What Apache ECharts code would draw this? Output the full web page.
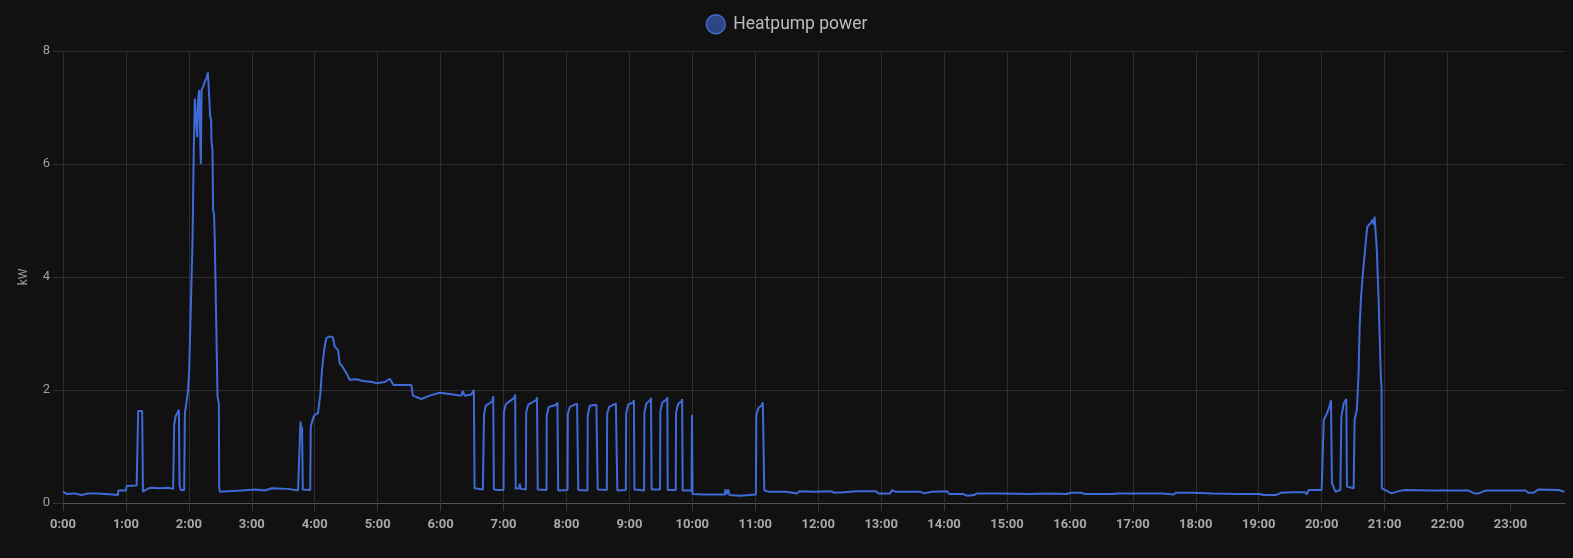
<!DOCTYPE html>
<html>
<head>
<meta charset="utf-8">
<script src="https://cdn.jsdelivr.net/npm/echarts@6/dist/echarts.min.js"></script>
<style>
html,body{margin:0;padding:0;background:#111111;}
#chart{width:1573px;height:558px;}
</style>
</head>
<body>
<div id="chart"></div>
<script>
const seriesName = "Heatpump power";
const yAxisName = "kW";
const hourTicks = [0,60,120,180,240,300,360,420,480,540,600,660,720,780,840,900,960,1020,1080,1140,1200,1260,1320,1380];
const yTicks = [0,2,4,6,8];

// minutes after midnight
const minutes = [
0,1.0,3.5,10.5,17.8,23.8,32.4,40.0,47.6,52.4,52.7,60.0,60.7,70.2,71.4,71.7,75.5,76.2,78.1,82.8,92.3,100,105,105.7,106,107.3,109.2,110.5,111.1,112.3,115.5,116.2,117.8,119.3,120.3,123.5,124.7,125.7,127.3,127.9,128.8,129.8,131.1,131.4,132.1,133.6,135.2,136.8,138.1,138.7,140,140.3,141.2,141.6,142.5,143.1,144.0,144.7,146.9,147.3,148.6,148.9,149.5,157.1,170.2,182.9,192.4,198.8,214.6,224.1,226.0,226.4,227.3,227.9,228.6,235.7,236.2,238.4,240,243.1,244.1,245.4,246.9,247.9,249.5,251.1,254.3,257.4,259,262.2,263.8,266.9,270.8,273.3,279.7,285.9,295.5,298.7,306.7,311.4,315.2,324.1,332.1,333.6,341.6,349.5,359,368.6,379.7,381.2,382.9,389.2,391.7,392.4,400.3,
401.0,401.4,402.9,409.3,410.2,410.8,415,420.0,
420.3,422.2,430.2,431.1,431.6,435,435.4,436.5,441.3,
441.6,443.5,451.2,451.9,452.6,461.0,
461.2,463.1,470.6,471.4,472.1,481.0,
481.3,483.2,490.1,490.8,491.3,500.0,
500.3,502.2,508.5,509.2,509.8,518.5,
518.8,520.7,527.1,528.0,528.5,536.6,
536.9,538.8,543.6,544.3,544.8,554.0,
554.3,556.2,559.9,560.6,561.2,569.2,
569.5,571.4,575.4,576.2,576.5,584.2,
584.5,586.4,589.6,590.3,590.8,599.3,599.7,600.2,
610,620,631.0,631.4,632.5,634.3,635.3,645,654.5,660.6,
661.0,663.0,665.8,667.2,668.6,
673.3,689.5,690,700,701.9,716,732.4,735.2,744.8,756.2,775.2,777.1,788.6,790.5,793.3,817.1,821,828.6,842.9,844.8,858.1,861.9,868.6,871.4,892.4,894.3,897.1,921,940,957.1,960,970.5,974.3,1001,1004.8,1025.7,1048.6,1050.5,1059,1061,1078,1096.2,1121,1140,1144.8,1156.2,1161,1173.3,1184.8,1185.7,1187.6,1200,
1201,1202,1205.1,1207.4,1208.9,1209.8,1213.1,1217.8,1218.6,1218.8,1221,1223.5,1224.1,1230.5,1231.2,1231.4,1233.6,1235.2,1236.2,1237.4,1239,1242.2,1243.5,1246.4,1248.6,1249.5,1250.5,1251.1,1252.6,1254.3,1256.5,1257.1,1257.4,1266.7,1273.3,1279.7,1304.8,1340,1345.7,1349.5,1356.2,1394.3,1397.1,1401.9,1406.7,1425.7,1431.4
];

const kw = [
0.20,0.20,0.16,0.17,0.14,0.17,0.17,0.16,0.15,0.14,0.22,0.22,0.30,0.31,0.31,1.63,1.63,0.20,0.23,0.27,0.26,0.27,0.25,0.25,1.38,1.53,1.55,1.65,0.32,0.23,0.23,1.59,1.79,2.0,2.35,4.65,6.3,7.16,7.15,6.47,7.13,7.31,7.31,6.0,7.31,7.37,7.46,7.52,7.62,7.43,7.40,6.85,6.78,6.40,6.25,5.18,5.12,4.65,2.35,1.88,1.76,0.29,0.20,0.21,0.22,0.24,0.22,0.26,0.25,0.22,0.22,1.44,1.26,1.35,0.24,0.23,1.35,1.50,1.56,1.59,1.60,1.94,2.35,2.53,2.77,2.92,2.95,2.93,2.77,2.71,2.47,2.40,2.28,2.18,2.19,2.16,2.14,2.12,2.14,2.20,2.09,2.09,2.09,1.90,1.84,1.90,1.95,1.93,1.90,1.98,1.90,1.92,2.00,0.26,0.24,
0.24,1.55,1.72,1.80,1.89,0.24,0.23,0.23,
1.60,1.75,1.86,1.92,0.25,0.26,0.34,0.25,0.24,
1.60,1.74,1.82,1.87,0.24,0.23,
1.55,1.70,1.74,1.78,0.22,0.23,
1.57,1.70,1.76,1.79,0.23,0.22,
1.55,1.72,1.74,1.75,0.24,0.23,
1.58,1.70,1.76,1.79,0.22,0.23,
1.58,1.74,1.78,1.82,0.24,0.22,
1.60,1.76,1.82,1.86,0.24,0.24,
1.62,1.78,1.83,1.87,0.23,0.23,
1.60,1.75,1.80,1.84,0.22,0.22,1.56,0.16,
0.15,0.15,0.15,0.24,0.15,0.24,0.14,0.13,0.14,0.15,
1.55,1.68,1.72,1.78,0.22,
0.20,0.20,0.17,0.17,0.21,0.20,0.21,0.18,0.19,0.21,0.21,0.17,0.17,0.23,0.20,0.20,0.17,0.20,0.21,0.16,0.16,0.13,0.14,0.17,0.17,0.20,0.17,0.16,0.17,0.16,0.18,0.18,0.16,0.16,0.17,0.17,0.17,0.15,0.15,0.18,0.18,0.17,0.16,0.16,0.14,0.14,0.18,0.19,0.19,0.15,0.23,0.23,
0.23,1.47,1.59,1.70,1.82,0.35,0.20,0.23,0.23,1.53,1.76,1.84,0.29,0.26,0.26,1.47,1.65,2.30,3.12,3.59,4.00,4.65,4.89,4.95,5.01,4.93,5.07,4.89,4.48,3.59,2.18,2.06,0.26,0.17,0.21,0.23,0.22,0.22,0.17,0.17,0.22,0.22,0.18,0.18,0.24,0.23,0.20
];

const data = minutes.map((m, i) => [m, kw[i]]);

const chart = echarts.init(document.getElementById('chart'), null, {renderer: 'canvas'});
const option = {
  backgroundColor: '#111111',
  animation: false,
  textStyle: {fontFamily: 'Roboto, "Noto Sans", sans-serif'},
  legend: {
    data: [seriesName],
    left: 'center',
    top: 9,
    icon: 'circle',
    itemWidth: 19,
    itemHeight: 19,
    itemGap: 8,
    itemStyle: {color: 'rgba(66,105,208,0.6)', borderColor: '#4269d0', borderWidth: 1.5},
    textStyle: {color: '#bdbdbd', fontSize: 17.5, fontFamily: 'Roboto', padding: [0, 0, 0, 3]}
  },
  grid: {left: 63, right: 8, top: 51, bottom: 55, containLabel: false},
  xAxis: {
    type: 'value',
    min: 0,
    max: 1432,
    interval: 60,
    axisLine: {show: true, lineStyle: {color: '#555555', width: 1}},
    axisTick: {show: true, length: 8, lineStyle: {color: '#3a3a3a'}, customValues: hourTicks},
    axisLabel: {
      customValues: hourTicks,
      color: '#a8a8a8', fontSize: 13, fontWeight: 'bold', margin: 15, fontFamily: 'Roboto',
      formatter: v => Math.round(v / 60) + ':00'
    },
    splitLine: {show: true, showMaxLine: false, lineStyle: {color: '#2e2e2e', width: 1}}
  },
  yAxis: {
    type: 'value',
    min: 0,
    max: 8,
    interval: 2,
    name: yAxisName,
    nameLocation: 'middle',
    nameGap: 33,
    nameRotate: 90,
    nameTextStyle: {color: '#a0a0a0', fontSize: 12, fontFamily: 'Roboto'},
    axisLine: {show: false},
    axisTick: {show: true, length: 10, lineStyle: {color: '#333333'}},
    axisLabel: {color: '#a0a0a0', fontSize: 13, margin: 13, fontFamily: 'Roboto',
      formatter: v => yTicks.includes(v) ? String(v) : ''},
    splitLine: {show: true, lineStyle: {color: '#2e2e2e', width: 1}}
  },
  series: [{
    name: seriesName,
    type: 'line',
    data: data,
    showSymbol: false,
    symbol: 'none',
    color: '#4269d0',
    lineStyle: {color: '#3f6bd8', width: 2},
    z: 5
  }]
};
chart.setOption(option);
</script>
</body>
</html>
